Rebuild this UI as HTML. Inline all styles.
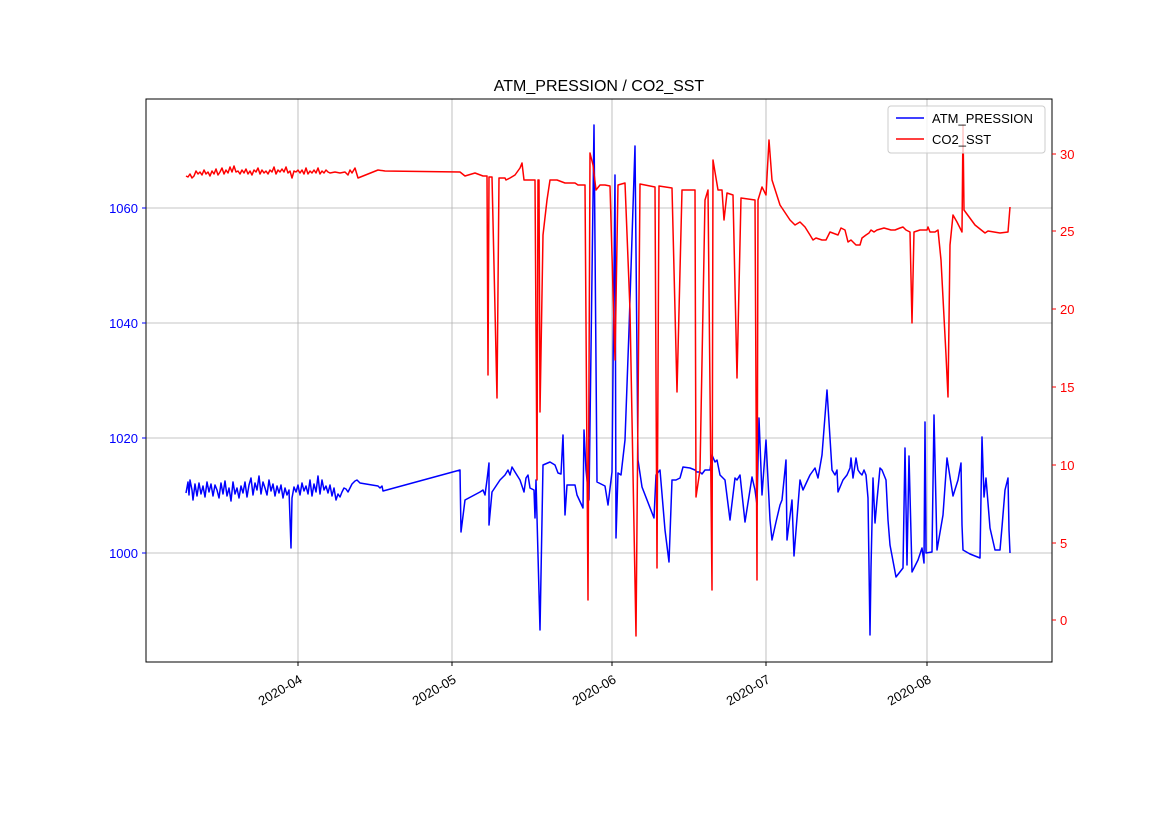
<!DOCTYPE html>
<html><head><meta charset="utf-8"><style>
html,body{margin:0;padding:0;background:#fff}
svg{display:block;font-family:"Liberation Sans","DejaVu Sans",sans-serif}
</style></head><body>
<svg width="1169" height="827" viewBox="0 0 1169 827" xmlns="http://www.w3.org/2000/svg">
<rect width="1169" height="827" fill="#fff"/>
<g stroke="#b0b0b0" stroke-width="0.8">
<line x1="298" y1="99" x2="298" y2="662"/><line x1="452" y1="99" x2="452" y2="662"/>
<line x1="612" y1="99" x2="612" y2="662"/><line x1="766" y1="99" x2="766" y2="662"/>
<line x1="927" y1="99" x2="927" y2="662"/>
<line x1="146" y1="208" x2="1052" y2="208"/><line x1="146" y1="323" x2="1052" y2="323"/>
<line x1="146" y1="438" x2="1052" y2="438"/><line x1="146" y1="553" x2="1052" y2="553"/>
</g>
<polyline fill="none" stroke="#0000ff" stroke-width="1.5" stroke-linejoin="round" points="186,493 188,482 189,495 190,480 192,490 193,500 195,484 197,496 199,483 201,494 203,486 205,497 207,482 209,492 211,484 213,496 215,485 217,490 219,498 221,483 223,494 225,481 227,496 229,488 231,501 233,482 235,494 237,488 239,498 241,486 243,493 245,482 247,497 249,485 251,478 253,495 255,483 257,490 259,476 261,494 263,482 265,488 267,495 269,480 271,491 273,484 275,496 277,486 279,493 281,485 283,498 285,488 287,495 289,490 291,548 292,498 294,487 296,492 298,485 300,495 302,483 304,491 306,486 308,494 310,480 312,496 314,484 316,492 318,476 320,494 322,480 324,490 326,486 328,493 330,485 332,496 334,488 336,500 338,494 340,497 342,492 344,488 346,489 348,492 350,488 352,484 355,481 357,480 360,483 378,486 380,488 382,486 383,491 460,470 461,532 465,500 480,492 483,490 485,495 487,480 489,463 489,525 492,492 500,480 505,475 508,470 510,475 512,467 515,472 520,480 524,492 526,478 528,475 530,488 534,490 535,518 536,480 540,630 543,465 550,462 555,465 558,473 561,474 563,435 565,515 567,485 575,485 577,495 583,508 584,430 586,470 589,500 594,125 597,482 605,486 608,505 612,472 615,175 616,538 618,473 621,475 625,440 629,330 635,146 638,460 642,487 654,518 656,475 660,470 665,530 669,562 672,480 676,480 680,478 683,467 690,468 695,470 697,472 700,472 702,474 705,470 710,470 712,455 715,462 717,460 720,475 725,480 730,520 735,478 737,480 740,475 745,522 752,477 755,490 757,505 759,418 762,495 766,440 770,520 772,540 776,522 780,505 782,500 786,460 787,540 792,500 794,556 800,480 803,490 810,475 815,468 818,478 822,455 827,390 832,470 835,475 837,470 838,492 843,480 847,475 850,468 851,458 853,478 855,465 856,458 858,470 860,473 862,475 864,470 866,475 868,498 870,635 871,568 873,478 875,523 877,500 880,468 882,470 884,475 886,480 888,520 890,545 896,577 903,568 905,448 907,565 909,456 912,572 918,560 922,548 924,563 925,422 926,553 932,552 934,415 937,550 943,515 947,458 953,496 958,480 961,463 962,525 963,550 970,554 980,558 982,437 984,497 986,478 990,528 995,550 1000,550 1002,527 1005,490 1008,478 1009,530 1010,553"/>
<polyline fill="none" stroke="#ff0000" stroke-width="1.5" stroke-linejoin="round" points="186,176 188,177 190,174 192,178 194,176 196,171 198,174 200,172 202,175 204,170 206,174 208,172 210,176 212,171 214,174 216,169 218,175 220,172 222,168 224,174 226,170 228,173 230,167 232,172 234,166 236,172 238,171 240,174 242,170 244,173 246,169 248,174 250,171 252,175 254,170 256,172 258,168 260,174 262,170 264,173 266,171 268,174 270,170 272,172 274,167 276,174 278,170 280,172 282,169 284,172 286,167 288,173 290,171 292,178 294,171 296,172 298,170 300,173 302,170 304,174 306,168 308,174 310,171 312,173 314,170 316,173 318,168 320,174 322,171 324,173 326,170 328,172 330,173 335,172 340,173 345,172 348,175 350,170 352,173 355,168 358,178 378,170 385,171 460,172 465,176 475,173 483,176 487,176 488,375 489,177 492,177 497,398 499,178 505,178 506,180 510,178 515,175 520,168 522,163 524,180 535,180 537,480 538,180 539,180 540,412 543,235 547,200 550,180 557,180 565,183 575,183 578,185 585,185 588,600 590,153 593,165 596,190 600,185 605,185 610,186 615,360 618,185 625,183 630,310 636,636 640,184 655,187 657,568 659,186 672,188 677,392 682,190 695,190 696,497 700,470 705,200 708,190 712,590 713,160 718,190 722,190 724,220 727,193 733,195 737,378 741,198 755,200 757,580 758,200 762,187 766,195 769,140 772,180 780,205 790,220 795,225 800,222 805,227 810,235 813,240 816,238 822,240 826,240 830,232 838,235 841,228 845,230 848,242 851,240 856,245 860,245 862,238 866,235 869,233 871,230 874,232 877,230 884,228 891,230 895,230 900,228 903,227 906,230 910,232 912,323 914,232 920,230 927,230 928,227 930,232 935,232 938,230 941,260 946,355 948,397 950,245 953,215 957,222 962,232 963,125 964,210 975,225 985,233 988,231 1000,233 1008,232 1010,207"/>
<rect x="146" y="99" width="906" height="563" fill="none" stroke="#000" stroke-width="1"/>
<g stroke="#000" stroke-width="1">
<line x1="298" y1="662" x2="298" y2="666"/><line x1="452" y1="662" x2="452" y2="666"/>
<line x1="612" y1="662" x2="612" y2="666"/><line x1="766" y1="662" x2="766" y2="666"/>
<line x1="927" y1="662" x2="927" y2="666"/>
</g>
<g stroke="#0000ff"><line x1="142" y1="208" x2="146" y2="208"/><line x1="142" y1="323" x2="146" y2="323"/><line x1="142" y1="438" x2="146" y2="438"/><line x1="142" y1="553" x2="146" y2="553"/></g>
<g stroke="#ff0000"><line x1="1052" y1="154" x2="1056" y2="154"/><line x1="1052" y1="231" x2="1056" y2="231"/><line x1="1052" y1="309" x2="1056" y2="309"/><line x1="1052" y1="387" x2="1056" y2="387"/><line x1="1052" y1="465" x2="1056" y2="465"/><line x1="1052" y1="543" x2="1056" y2="543"/><line x1="1052" y1="620" x2="1056" y2="620"/></g>
<g font-size="13" fill="#0000ff" text-anchor="end">
<text x="138" y="213">1060</text><text x="138" y="328">1040</text><text x="138" y="443">1020</text><text x="138" y="558">1000</text></g>
<g font-size="13" fill="#ff0000">
<text x="1060" y="159">30</text><text x="1060" y="236">25</text><text x="1060" y="314">20</text><text x="1060" y="392">15</text><text x="1060" y="470">10</text><text x="1060" y="548">5</text><text x="1060" y="625">0</text></g>
<g font-size="13" fill="#000" text-anchor="end">
<text transform="translate(303,682) rotate(-30)">2020-04</text>
<text transform="translate(457,682) rotate(-30)">2020-05</text>
<text transform="translate(617,682) rotate(-30)">2020-06</text>
<text transform="translate(771,682) rotate(-30)">2020-07</text>
<text transform="translate(932,682) rotate(-30)">2020-08</text>
</g>
<text x="599" y="91" font-size="16" text-anchor="middle" fill="#000">ATM_PRESSION / CO2_SST</text>
<rect x="888" y="106" width="157" height="47" rx="3" fill="#fff" fill-opacity="0.8" stroke="#ccc"/>
<line x1="896" y1="118" x2="924" y2="118" stroke="#0000ff" stroke-width="1.5"/>
<line x1="896" y1="139" x2="924" y2="139" stroke="#ff0000" stroke-width="1.5"/>
<text x="932" y="123" font-size="13">ATM_PRESSION</text>
<text x="932" y="144" font-size="13">CO2_SST</text>
</svg>
</body></html>
